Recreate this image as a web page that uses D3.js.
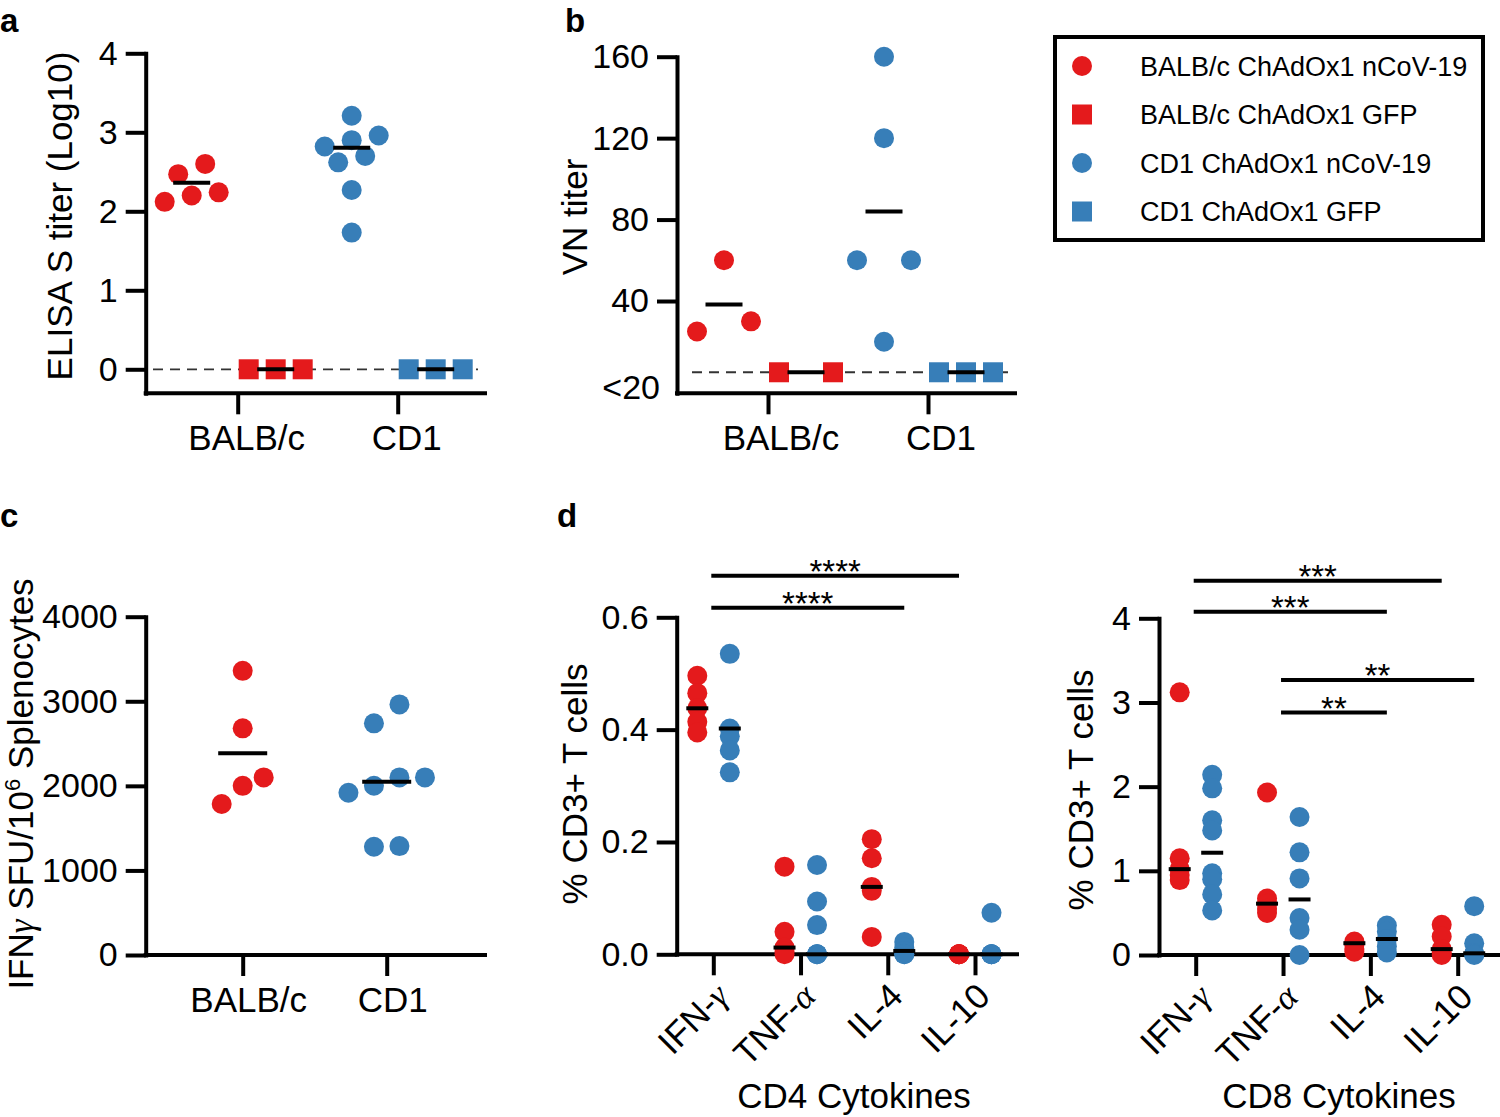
<!DOCTYPE html>
<html><head><meta charset="utf-8">
<script src="https://cdn.jsdelivr.net/npm/d3@7"></script>
<style>body{margin:0;background:#fff}</style>
</head><body><svg id="chart" width="1500" height="1117"></svg>
<script>
// ---------------- data ----------------
const strains = ["BALB/c", "CD1"];
const legendLabels = ["BALB/c ChAdOx1 nCoV-19", "BALB/c ChAdOx1 GFP", "CD1 ChAdOx1 nCoV-19", "CD1 ChAdOx1 GFP"];

// panel a : ELISA S titer (log10)
const elisaTicks = [0, 1, 2, 3, 4];
const elisaBalbNcov = [2.60, 2.47, 2.24, 2.20, 2.12];
const elisaBalbGfp = [0, 0, 0];
const elisaCd1Ncov = [3.21, 2.96, 2.90, 2.82, 2.70, 2.62, 2.27, 1.73];
const elisaCd1Gfp = [0, 0, 0];
const elisaCentre = [2.36, 0, 2.805, 0];
const elisaCutoff = 0;

// panel b : VN titer
const vnTicks = [40, 80, 120, 160];
const vnLowLabel = "<20";
const vnBalbNcov = [60, 30, 25];
const vnBalbGfp = [5, 5];
const vnCd1Ncov = [160, 120, 60, 60, 20];
const vnCd1Gfp = [5, 5, 5];
const vnCentre = [38.3, 5, 84, 5];
const vnCutoff = 5;

// panel c : IFNg ELISpot
const spotTicks = [0, 1000, 2000, 3000, 4000];
const spotBalb = [3360, 2680, 2100, 2000, 1785];
const spotCd1 = [2963, 2739, 2100, 2100, 2001, 1918, 1288, 1280];
const spotCentre = [2385, 2048];

// panel d : cytokines
const cytokines = ["IFN-γ", "TNF-α", "IL-4", "IL-10"];
const cd4Ticks = [0, 0.2, 0.4, 0.6];
const cd4Balb = [
  [0.496, 0.465, 0.438, 0.414, 0.395],
  [0.156, 0.040, 0.012, 0.005, 0.0],
  [0.205, 0.171, 0.120, 0.113, 0.031],
  [0, 0, 0, 0, 0]
];
const cd4Cd1 = [
  [0.535, 0.402, 0.388, 0.363, 0.324],
  [0.159, 0.094, 0.052, 0, 0, 0],
  [0.022, 0.012, 0.006, 0, 0],
  [0.074, 0, 0, 0, 0]
];
const cd4BalbMedian = [0.438, 0.012, 0.120, 0];
const cd4Cd1Median = [0.402, 0, 0.006, 0];
const cd4Sig = [
  {from: "IFN-γ", to: "IL-10", toStrain: 0, level: 0.674, label: "****"},
  {from: "IFN-γ", to: "IL-4", toStrain: 1, level: 0.617, label: "****"}
];

const cd8Ticks = [0, 1, 2, 3, 4];
const cd8Balb = [
  [3.12, 1.15, 1.02, 0.95, 0.89],
  [1.93, 0.67, 0.61, 0.55, 0.50],
  [0.16, 0.14, 0.12, 0.07, 0.04],
  [0.36, 0.22, 0.07, 0.03, 0.0]
];
const cd8Cd1 = [
  [2.14, 1.98, 1.60, 1.48, 0.97, 0.90, 0.72, 0.53],
  [1.64, 1.22, 0.91, 0.44, 0.30, 0.0],
  [0.35, 0.28, 0.19, 0.10, 0.03],
  [0.58, 0.14, 0.02, 0.01, 0.0]
];
const cd8BalbMedian = [1.02, 0.61, 0.14, 0.07];
const cd8Cd1Median = [1.215, 0.66, 0.19, 0.02];
const cd8Sig = [
  {from: "IFN-γ", to: "IL-10", toStrain: 0, level: 4.445, label: "***"},
  {from: "IFN-γ", to: "IL-4", toStrain: 1, level: 4.077, label: "***"},
  {from: "TNF-α", to: "IL-10", toStrain: 1, level: 3.266, label: "**"},
  {from: "TNF-α", to: "IL-4", toStrain: 1, level: 2.88, label: "**"}
];

// ---------------- style ----------------
const FONT = '"Liberation Sans", Arial, Helvetica, sans-serif';
const RED = "#e41a1c", BLUE = "#377eb8";
const COLORS = [RED, BLUE];
const R = 10, SQ = 20, AXW = 4;
const svg = d3.select("#chart").attr("font-family", FONT);

// ---------------- helpers ----------------
function yAxis(scale, x, ticks, fmt) {
  const g = svg.append("g").attr("transform", `translate(${x},0)`)
    .call(d3.axisLeft(scale).tickValues(ticks).tickFormat(fmt).tickSize(20).tickSizeOuter(0).tickPadding(8));
  g.attr("font-family", FONT).attr("font-size", 34);
  g.select(".domain").attr("stroke", "#000").attr("stroke-width", AXW).attr("stroke-linecap", "square");
  g.selectAll(".tick line").attr("stroke", "#000").attr("stroke-width", AXW);
  g.selectAll(".tick text").attr("fill", "#000");
  return g;
}
function xAxis(xScale, yPos, x0, x1) {
  svg.append("line").attr("x1", x0).attr("x2", x1).attr("y1", yPos).attr("y2", yPos)
    .attr("stroke", "#000").attr("stroke-width", AXW).attr("stroke-linecap", "square");
  const g = svg.append("g").attr("transform", `translate(0,${yPos})`)
    .call(d3.axisBottom(xScale).tickSize(21).tickSizeOuter(0).tickFormat(""));
  g.select(".domain").remove();
  g.selectAll(".tick line").attr("stroke", "#000").attr("stroke-width", AXW);
  return g;
}
function swarm(values, y, opt) {
  const pts = values.map(v => ({v, py: y(v)})).sort((a, b) => a.py - b.py);
  const rows = []; let cur = null;
  pts.forEach(p => {
    if (cur && p.py - cur[0].py < opt.rowH) cur.push(p); else { cur = [p]; rows.push(cur); }
  });
  rows.forEach(row => {
    row.sort((a, b) => a.v - b.v);
    const n = row.length;
    row.forEach((p, i) => {
      if (opt.spread != null) p.dx = n > 1 ? -opt.spread / 2 + i * opt.spread / (n - 1) : 0;
      else p.dx = (i - (n - 1) / 2) * opt.step;
    });
  });
  return pts;
}
function drawPoints(values, cx, y, color, shape, opt) {
  const pts = swarm(values, y, opt);
  const g = svg.append("g");
  if (shape === "circle") {
    g.selectAll("circle").data(pts).join("circle")
      .attr("cx", d => cx + d.dx).attr("cy", d => d.py).attr("r", R).attr("fill", color);
  } else {
    g.selectAll("rect").data(pts).join("rect")
      .attr("x", d => cx + d.dx - SQ / 2).attr("y", d => d.py - SQ / 2)
      .attr("width", SQ).attr("height", SQ).attr("fill", color);
  }
}
function centreLine(cx, yv, w) {
  svg.append("line").attr("x1", cx - w / 2).attr("x2", cx + w / 2).attr("y1", yv).attr("y2", yv)
    .attr("stroke", "#000").attr("stroke-width", AXW);
}
function dashed(y, x0, x1) {
  svg.append("line").attr("x1", x0).attr("x2", x1).attr("y1", y).attr("y2", y)
    .attr("stroke", "#333").attr("stroke-width", 1.8).attr("stroke-dasharray", "10,7");
}
function yTitle(x, y, txt) {
  return svg.append("text").attr("transform", `translate(${x},${y}) rotate(-90)`)
    .attr("text-anchor", "middle").attr("font-size", 35).text(txt);
}
function letter(x, y, t) {
  svg.append("text").attr("x", x).attr("y", y).attr("font-size", 33).attr("font-weight", "bold").text(t);
}
function catLabels(xScale, y, dx) {
  strains.forEach(s => {
    svg.append("text").attr("x", xScale(s) + dx).attr("y", y).attr("text-anchor", "middle")
      .attr("font-size", 35).text(s);
  });
}

// ---------------- panel a ----------------
{
  const y = d3.scaleLinear().domain([-0.304, 4]).range([393.3, 53.3]);
  const x = d3.scalePoint().domain(strains).range([237.7, 397.7]);
  const off = [-46, 38];
  dashed(y(elisaCutoff), 153, 478);
  yAxis(y, 145.7, elisaTicks, d3.format("d"));
  xAxis(x, 393.3, 145.7, 485);
  const groups = [elisaBalbNcov, elisaBalbGfp, elisaCd1Ncov, elisaCd1Gfp];
  groups.forEach((vals, i) => {
    const s = Math.floor(i / 2), v = i % 2;
    const cx = x(strains[s]) + off[v];
    drawPoints(vals, cx, y, COLORS[s], v === 0 ? "circle" : "square", {step: 27, rowH: 18});
  });
  groups.forEach((vals, i) => {
    const s = Math.floor(i / 2), v = i % 2;
    centreLine(x(strains[s]) + off[v], y(elisaCentre[i]), 37);
  });
  catLabels(x, 450, 9);
  yTitle(72, 216, "ELISA S titer (Log10)");
  letter(0, 32, "a");
}

// ---------------- panel b ----------------
{
  const y = d3.scaleLinear().domain([-5.33, 160]).range([393.3, 56.7]);
  const x = d3.scalePoint().domain(strains).range([768, 928]);
  const off = [-44, 38];
  dashed(y(vnCutoff), 692, 1010);
  yAxis(y, 677, vnTicks, d3.format("d"));
  svg.append("text").attr("x", 660).attr("y", y(-2.5)).attr("dy", "0.34em")
    .attr("text-anchor", "end").attr("font-size", 34).text(vnLowLabel);
  xAxis(x, 393.3, 677, 1015);
  const groups = [vnBalbNcov, vnBalbGfp, vnCd1Ncov, vnCd1Gfp];
  groups.forEach((vals, i) => {
    const s = Math.floor(i / 2), v = i % 2;
    drawPoints(vals, x(strains[s]) + off[v], y, COLORS[s], v === 0 ? "circle" : "square", {spread: 54, rowH: 18});
  });
  groups.forEach((vals, i) => {
    const s = Math.floor(i / 2), v = i % 2;
    centreLine(x(strains[s]) + off[v], y(vnCentre[i]), 37);
  });
  catLabels(x, 450, 13);
  yTitle(587, 217, "VN titer");
  letter(565, 32, "b");
}

// ---------------- legend ----------------
{
  svg.append("rect").attr("x", 1055).attr("y", 37).attr("width", 428).attr("height", 203)
    .attr("fill", "none").attr("stroke", "#000").attr("stroke-width", 4);
  legendLabels.forEach((lab, i) => {
    const yy = 66 + i * 48.5;
    const col = COLORS[Math.floor(i / 2)];
    if (i % 2 === 0) svg.append("circle").attr("cx", 1082).attr("cy", yy).attr("r", R).attr("fill", col);
    else svg.append("rect").attr("x", 1072).attr("y", yy - 10).attr("width", 20).attr("height", 20).attr("fill", col);
    svg.append("text").attr("x", 1140).attr("y", yy + 9.5).attr("font-size", 27).text(lab);
  });
}

// ---------------- panel c ----------------
{
  const y = d3.scaleLinear().domain([0, 4000]).range([955, 616.7]);
  const x = d3.scalePoint().domain(strains).range([242.7, 386.7]);
  yAxis(y, 145.7, spotTicks, d3.format("d"));
  xAxis(x, 955, 145.7, 485);
  drawPoints(spotBalb, x(strains[0]), y, RED, "circle", {step: 21, rowH: 30});
  drawPoints(spotCd1, x(strains[1]), y, BLUE, "circle", {step: 25.5, rowH: 30});
  centreLine(x(strains[0]), y(spotCentre[0]), 49);
  centreLine(x(strains[1]), y(spotCentre[1]), 49);
  catLabels(x, 1012, 6);
  const t = svg.append("text").attr("transform", "translate(33,784) rotate(-90)")
    .attr("text-anchor", "middle").attr("font-size", 35);
  t.append("tspan").text("IFN");
  t.append("tspan").attr("font-style", "italic").attr("font-family", '"Liberation Serif", serif').text("γ");
  t.append("tspan").text(" SFU/10");
  t.append("tspan").attr("font-size", 22).attr("dy", -13).text("6");
  t.append("tspan").attr("dy", 13).text(" Splenocytes");
  letter(0, 527, "c");
}

// ---------------- panel d ----------------
function cytoPanel(opts) {
  const {y, x, axisX, axisEnd, ticks, fmt, balb, cd1, balbMed, cd1Med, sig, title, titleX, titleY, xTitle, xTitleX} = opts;
  const off = [-16, 16.5];
  yAxis(y, axisX, ticks, fmt);
  xAxis(x, y(0), axisX, axisEnd);
  [balb, cd1].forEach((set, s) => {
    set.forEach((vals, c) => drawPoints(vals, x(cytokines[c]) + off[s], y, COLORS[s], "circle", {step: 0, rowH: 1}));
  });
  [balbMed, cd1Med].forEach((meds, s) => {
    meds.forEach((m, c) => centreLine(x(cytokines[c]) + off[s], y(m), 22));
  });
  sig.forEach(b => {
    const x0 = x(b.from) - 2, x1 = x(b.to) + off[b.toStrain];
    const yy = y(b.level);
    svg.append("line").attr("x1", x0).attr("x2", x1).attr("y1", yy).attr("y2", yy)
      .attr("stroke", "#000").attr("stroke-width", AXW);
    svg.append("text").attr("x", (x0 + x1) / 2).attr("y", yy + 7).attr("text-anchor", "middle")
      .attr("font-size", 33).text(b.label);
  });
  cytokines.forEach(c => {
    const t = svg.append("text").attr("transform", `translate(${x(c) + 17},${y(0) + 44}) rotate(-45)`)
      .attr("text-anchor", "end").attr("font-size", 35);
    const m = c.match(/^(.*-)([γα])$/);
    if (m) {
      t.append("tspan").text(m[1]);
      t.append("tspan").attr("font-style", "italic").attr("font-family", '"Liberation Serif", serif').text(m[2]);
    } else t.text(c);
  });
  yTitle(titleX, titleY, title);
  svg.append("text").attr("x", xTitleX).attr("y", 1108).attr("text-anchor", "middle")
    .attr("font-size", 35).text(xTitle);
}
cytoPanel({
  y: d3.scaleLinear().domain([0, 0.6]).range([954.3, 617.3]),
  x: d3.scalePoint().domain(cytokines).range([713.3, 975]),
  axisX: 676.7, axisEnd: 1017, ticks: cd4Ticks, fmt: d3.format(".1f"),
  balb: cd4Balb, cd1: cd4Cd1, balbMed: cd4BalbMedian, cd1Med: cd4Cd1Median, sig: cd4Sig,
  title: "% CD3+ T cells", titleX: 587, titleY: 784, xTitle: "CD4 Cytokines", xTitleX: 854
});
cytoPanel({
  y: d3.scaleLinear().domain([0, 4]).range([955, 618.3]),
  x: d3.scalePoint().domain(cytokines).range([1195.7, 1457.7]),
  axisX: 1159, axisEnd: 1498, ticks: cd8Ticks, fmt: d3.format("d"),
  balb: cd8Balb, cd1: cd8Cd1, balbMed: cd8BalbMedian, cd1Med: cd8Cd1Median, sig: cd8Sig,
  title: "% CD3+ T cells", titleX: 1093, titleY: 790, xTitle: "CD8 Cytokines", xTitleX: 1339
});
letter(557, 527, "d");
</script>
</body></html>
